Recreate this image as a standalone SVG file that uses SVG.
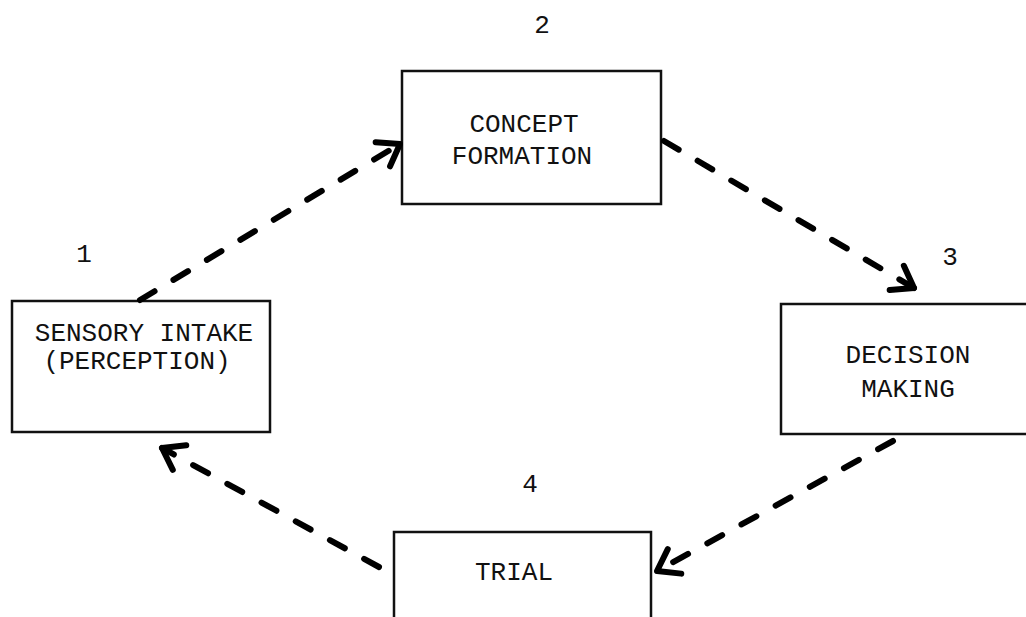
<svg xmlns="http://www.w3.org/2000/svg" width="1026" height="617" viewBox="0 0 1026 617">
<style>
.box{fill:#fff;stroke:#111;stroke-width:2.5}
.t{font-family:"Liberation Mono","DejaVu Sans Mono",monospace;font-size:26px;fill:#111;text-anchor:middle}
.n{font-family:"Liberation Mono","DejaVu Sans Mono",monospace;font-size:26px;fill:#111;text-anchor:middle}
.c{fill:none;stroke:#000;stroke-width:6;stroke-linecap:round;stroke-dasharray:17 22}
.h{fill:none;stroke:#000;stroke-width:6;stroke-linecap:round;stroke-linejoin:round}
</style>
<defs>
<marker id="ah" markerUnits="userSpaceOnUse" markerWidth="40" markerHeight="40" viewBox="-25 -20 30 40" refX="0" refY="0" orient="auto">
<path class="h" d="M-20,-14 L0,0 L-20,14"/>
</marker>
</defs>
<rect width="1026" height="617" fill="#fff"/>
<g id="node1">
<rect class="box" x="12" y="301" width="258" height="131"/>
<text class="t" x="144" y="341">SENSORY INTAKE</text>
<text class="t" x="137" y="369">(PERCEPTION)</text>
<text class="n" x="84" y="262">1</text>
</g>
<g id="node2">
<rect class="box" x="402" y="71" width="259" height="133"/>
<text class="t" x="524" y="132">CONCEPT</text>
<text class="t" x="522" y="164">FORMATION</text>
<text class="n" x="542" y="33">2</text>
</g>
<g id="node3">
<rect class="box" x="781" y="304" width="270" height="130"/>
<text class="t" x="908" y="363">DECISION</text>
<text class="t" x="908" y="397">MAKING</text>
<text class="n" x="950" y="265">3</text>
</g>
<g id="node4">
<rect class="box" x="394" y="532" width="257" height="110"/>
<text class="t" x="514" y="580">TRIAL</text>
<text class="n" x="530" y="492">4</text>
</g>
<g id="connectors">
<path class="c" d="M140,300 L400,144" marker-end="url(#ah)"/>
<path class="c" d="M664,141 L914,288" marker-end="url(#ah)"/>
<path class="c" d="M893,441 L657,571" marker-end="url(#ah)"/>
<path class="c" d="M379,567 L162,448" marker-end="url(#ah)"/>
</g>
</svg>
